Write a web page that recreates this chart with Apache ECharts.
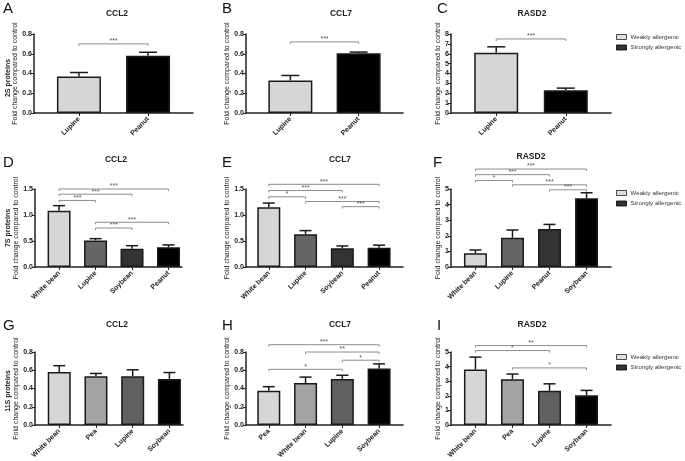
<!DOCTYPE html>
<html><head><meta charset="utf-8">
<script src="https://cdn.jsdelivr.net/npm/echarts@6/dist/echarts.min.js"></script>
<style>html,body{margin:0;padding:0;background:#fff}#c{width:685px;height:461px}</style>
</head><body><div id="c"></div>
<script>
// ---------------- data ----------------
const catsA = ['Lupine', 'Peanut'];
const valsA = [0.37, 0.58];
const errA = [0.04, 0.035];
const sigA = [[1, 2, 0.70, '***']];

const catsB = ['Lupine', 'Peanut'];
const valsB = [0.33, 0.605];
const errB = [0.05, 0.012];
const sigB = [[1, 2, 0.72, '***']];

const catsC = ['Lupine', 'Peanut'];
const valsC = [6.1, 2.3];
const errC = [0.6, 0.22];
const sigC = [[1, 2, 7.5, '***']];

const catsD = ['White bean', 'Lupine', 'Soybean', 'Peanut'];
const valsD = [1.08, 0.51, 0.35, 0.38];
const errD = [0.10, 0.035, 0.06, 0.045];
const sigD = [[1, 2, 1.28, '***'], [1, 3, 1.40, '***'], [1, 4, 1.50, '***'], [2, 3, 0.75, '***'], [2, 4, 0.86, '***']];

const catsE = ['White bean', 'Lupine', 'Soybean', 'Peanut'];
const valsE = [1.15, 0.63, 0.36, 0.37];
const errE = [0.08, 0.07, 0.045, 0.05];
const sigE = [[1, 2, 1.35, '*'], [1, 3, 1.47, '***'], [1, 4, 1.59, '***'], [2, 4, 1.26, '***'], [3, 4, 1.16, '***']];

const catsF = ['White bean', 'Lupine', 'Peanut', 'Soybean'];
const valsF = [0.88, 1.88, 2.43, 4.40];
const errF = [0.21, 0.49, 0.30, 0.36];
const sigF = [[1, 2, 5.55, '*'], [1, 3, 5.92, '***'], [1, 4, 6.28, '***'], [2, 4, 5.27, '***'], [3, 4, 4.95, '***']];

const catsG = ['White bean', 'Pea', 'Lupine', 'Soybean'];
const valsG = [0.58, 0.535, 0.535, 0.505];
const errG = [0.07, 0.03, 0.07, 0.07];
const sigG = [];

const catsH = ['Pea', 'White bean', 'Lupine', 'Soybean'];
const valsH = [0.375, 0.46, 0.505, 0.62];
const errH = [0.045, 0.065, 0.04, 0.05];
const sigH = [[1, 3, 0.61, '*'], [1, 4, 0.88, '***'], [2, 4, 0.80, '**'], [3, 4, 0.71, '*']];

const catsI = ['White bean', 'Pea', 'Lupine', 'Soybean'];
const valsI = [3.80, 3.13, 2.35, 2.03];
const errI = [0.85, 0.36, 0.47, 0.34];
const sigI = [[1, 3, 5.1, '*'], [1, 4, 5.44, '**'], [2, 4, 3.91, '*']];

const panelTitles = ['CCL2', 'CCL7', 'RASD2', 'CCL2', 'CCL7', 'RASD2', 'CCL2', 'CCL7', 'RASD2'];
const panelLetters = ['A', 'B', 'C', 'D', 'E', 'F', 'G', 'H', 'I'];
const rowLabels = ['2S proteins', '7S proteins', '11S proteins'];
const legendNames = ['Weakly allergenic', 'Strongly allergenic'];
const yAxisName = 'Fold change compared to control';

// ---------------- styles / layout ----------------
const FONT = 'Liberation Sans, Arial, sans-serif';
const TXT = '#222';
const palRow1 = ['#d6d6d6', '#000000'];
const palRow2 = ['#d6d6d6', '#666666', '#333333', '#000000'];
const palRow3 = ['#d6d6d6', '#a3a3a3', '#606060', '#000000'];

const panels = [
  {cats: catsA, vals: valsA, err: errA, sig: sigA, ymax: 0.8, yint: 0.2, dec: 1, pal: palRow1},
  {cats: catsB, vals: valsB, err: errB, sig: sigB, ymax: 0.8, yint: 0.2, dec: 1, pal: palRow1},
  {cats: catsC, vals: valsC, err: errC, sig: sigC, ymax: 8, yint: 1, dec: 0, pal: palRow1},
  {cats: catsD, vals: valsD, err: errD, sig: sigD, ymax: 1.5, yint: 0.5, dec: 1, pal: palRow2},
  {cats: catsE, vals: valsE, err: errE, sig: sigE, ymax: 1.5, yint: 0.5, dec: 1, pal: palRow2},
  {cats: catsF, vals: valsF, err: errF, sig: sigF, ymax: 5, yint: 1, dec: 0, pal: palRow2},
  {cats: catsG, vals: valsG, err: errG, sig: sigG, ymax: 0.8, yint: 0.2, dec: 1, pal: palRow3},
  {cats: catsH, vals: valsH, err: errH, sig: sigH, ymax: 0.8, yint: 0.2, dec: 1, pal: palRow3},
  {cats: catsI, vals: valsI, err: errI, sig: sigI, ymax: 5, yint: 1, dec: 0, pal: palRow3}
];

const layout = [
  {left: 34, top: 34, width: 159, height: 79, xmin: 0.35, xmax: 2.65, barW: 44, cap: 18, gap: 12},
  {left: 246, top: 34, width: 157, height: 79, xmin: 0.35, xmax: 2.65, barW: 44, cap: 18, gap: 15},
  {left: 451, top: 34, width: 160, height: 79, xmin: 0.35, xmax: 2.65, barW: 44, cap: 18, gap: 9},
  {left: 35, top: 189, width: 147, height: 78, xmin: 0.34, xmax: 4.37, barW: 23, cap: 12, gap: 12},
  {left: 246, top: 189, width: 157, height: 78, xmin: 0.38, xmax: 4.65, barW: 23, cap: 12, gap: 15},
  {left: 451, top: 189, width: 160, height: 78, xmin: 0.34, xmax: 4.66, barW: 23, cap: 12, gap: 9},
  {left: 35, top: 352, width: 148, height: 79, xmin: 0.34, xmax: 4.37, barW: 23, cap: 12, gap: 12},
  {left: 246, top: 352, width: 157, height: 79, xmin: 0.38, xmax: 4.65, barW: 23, cap: 12, gap: 15},
  {left: 451, top: 352, width: 160, height: 79, xmin: 0.34, xmax: 4.66, barW: 23, cap: 12, gap: 9}
];
const letterPos = [[3, 1], [222, 1], [437, 1], [3, 155], [222, 155], [433, 155], [3, 318], [222, 318], [437, 318]];
const titlePos = [[117, 9], [341, 9], [532, 9], [116, 155], [340, 155], [531, 152], [117, 320], [340, 320], [532, 320]];
const rowLabelPos = [[8, 78], [8, 228], [8, 391]];
const legendTops = [34, 190, 354];

// ---------------- build option ----------------
const grid = [], xAxis = [], yAxis = [], series = [], title = [];

panels.forEach((p, i) => {
  const L = layout[i];
  const ticks = p.cats.map((c, j) => j + 1);
  grid.push({left: L.left, top: L.top, width: L.width, height: L.height});
  xAxis.push({
    gridIndex: i, type: 'value', min: L.xmin, max: L.xmax,
    axisLine: {show: true, onZero: false, lineStyle: {color: TXT, width: 1.5}},
    axisTick: {show: true, customValues: ticks, length: 3, lineStyle: {color: TXT, width: 1}},
    axisLabel: {customValues: ticks, rotate: 45, fontSize: 7, fontWeight: 'bold', color: TXT,
      fontFamily: FONT, margin: 5, formatter: v => p.cats[Math.round(v) - 1] || ''},
    splitLine: {show: false}
  });
  yAxis.push({
    gridIndex: i, type: 'value', min: 0, max: p.ymax, interval: p.yint,
    axisLine: {show: true, lineStyle: {color: TXT, width: 1.5}},
    axisTick: {show: true, length: 3, lineStyle: {color: TXT, width: 1}},
    axisLabel: {fontSize: 7, fontWeight: 'bold', color: TXT, fontFamily: FONT, margin: 2,
      formatter: v => v.toFixed(p.dec)},
    splitLine: {show: false},
    name: yAxisName, nameLocation: 'middle', nameGap: L.gap,
    nameTextStyle: {fontSize: 7, color: TXT, fontFamily: FONT}
  });
  series.push({
    type: 'bar', xAxisIndex: i, yAxisIndex: i, barWidth: L.barW, silent: true,
    itemStyle: {borderColor: '#1a1a1a', borderWidth: 1.5},
    data: p.vals.map((v, j) => ({value: [j + 1, v], itemStyle: {color: p.pal[j]}}))
  });
  series.push({
    type: 'custom', xAxisIndex: i, yAxisIndex: i, silent: true, clip: false,
    data: p.vals.map((v, j) => [j + 1, v, v + p.err[j]]),
    renderItem: (params, api) => {
      const x = api.value(0);
      const a = api.coord([x, api.value(1)]);
      const b = api.coord([x, api.value(2)]);
      const hw = L.cap / 2;
      const st = {stroke: '#1a1a1a', lineWidth: 1.5};
      return {type: 'group', children: [
        {type: 'line', shape: {x1: a[0], y1: a[1], x2: b[0], y2: b[1]}, style: st},
        {type: 'line', shape: {x1: b[0] - hw, y1: b[1], x2: b[0] + hw, y2: b[1]}, style: st}
      ]};
    }
  });
  if (p.sig.length) {
    series.push({
      type: 'custom', xAxisIndex: i, yAxisIndex: i, silent: true, clip: false,
      data: p.sig.map(s => [s[0], s[1], s[2]]),
      renderItem: (params, api) => {
        const a = api.coord([api.value(0), api.value(2)]);
        const b = api.coord([api.value(1), api.value(2)]);
        const st = {stroke: '#8c8c8c', lineWidth: 1};
        return {type: 'group', children: [
          {type: 'polyline', shape: {points: [[a[0], a[1] + 2], [a[0], a[1]], [b[0], b[1]], [b[0], b[1] + 2]]}, style: Object.assign({fill: null}, st)},
          {type: 'text', style: {text: p.sig[params.dataIndex][3], x: (a[0] + b[0]) / 2, y: a[1] + 1,
            textAlign: 'center', textVerticalAlign: 'bottom', fill: '#555', font: '7px ' + FONT}}
        ]};
      }
    });
  }
  title.push({text: panelLetters[i], left: letterPos[i][0], top: letterPos[i][1], padding: 0,
    textStyle: {fontSize: 15, fontWeight: 'normal', color: '#111', fontFamily: FONT}});
  title.push({text: panelTitles[i], left: titlePos[i][0], top: titlePos[i][1], padding: 0, textAlign: 'center',
    textStyle: {fontSize: 8.5, fontWeight: 'bold', color: TXT, fontFamily: FONT}});
});

// dummy series that only feed the legends
const legendStyles = [
  {color: '#d6d6d6', borderColor: '#222', borderWidth: 1},
  {color: '#000000', borderColor: '#000', borderWidth: 1}
];
legendNames.forEach((nm, k) => {
  series.push({type: 'scatter', name: nm, xAxisIndex: 0, yAxisIndex: 0, data: [], itemStyle: legendStyles[k]});
});
const legend = legendTops.map(t => ({
  orient: 'vertical', left: 616, top: t, padding: 0, itemWidth: 10, itemHeight: 5, itemGap: 4.5,
  icon: 'rect', selectedMode: false,
  textStyle: {fontSize: 6.2, color: '#333', fontFamily: FONT, padding: [0, 0, 0, -1]},
  data: legendNames.map((nm, k) => ({name: nm, icon: 'rect', itemStyle: legendStyles[k]}))
}));

const graphic = rowLabels.map((t, r) => ({
  type: 'text', x: rowLabelPos[r][0], y: rowLabelPos[r][1], rotation: Math.PI / 2,
  style: {text: t, font: 'bold 7px ' + FONT, textAlign: 'center', textVerticalAlign: 'middle', fill: TXT}
}));

const chart = echarts.init(document.getElementById('c'), null, {renderer: 'canvas'});
chart.setOption({
  backgroundColor: '#fff', animation: false,
  title, grid, xAxis, yAxis, series, legend, graphic
});
</script>
</body></html>
